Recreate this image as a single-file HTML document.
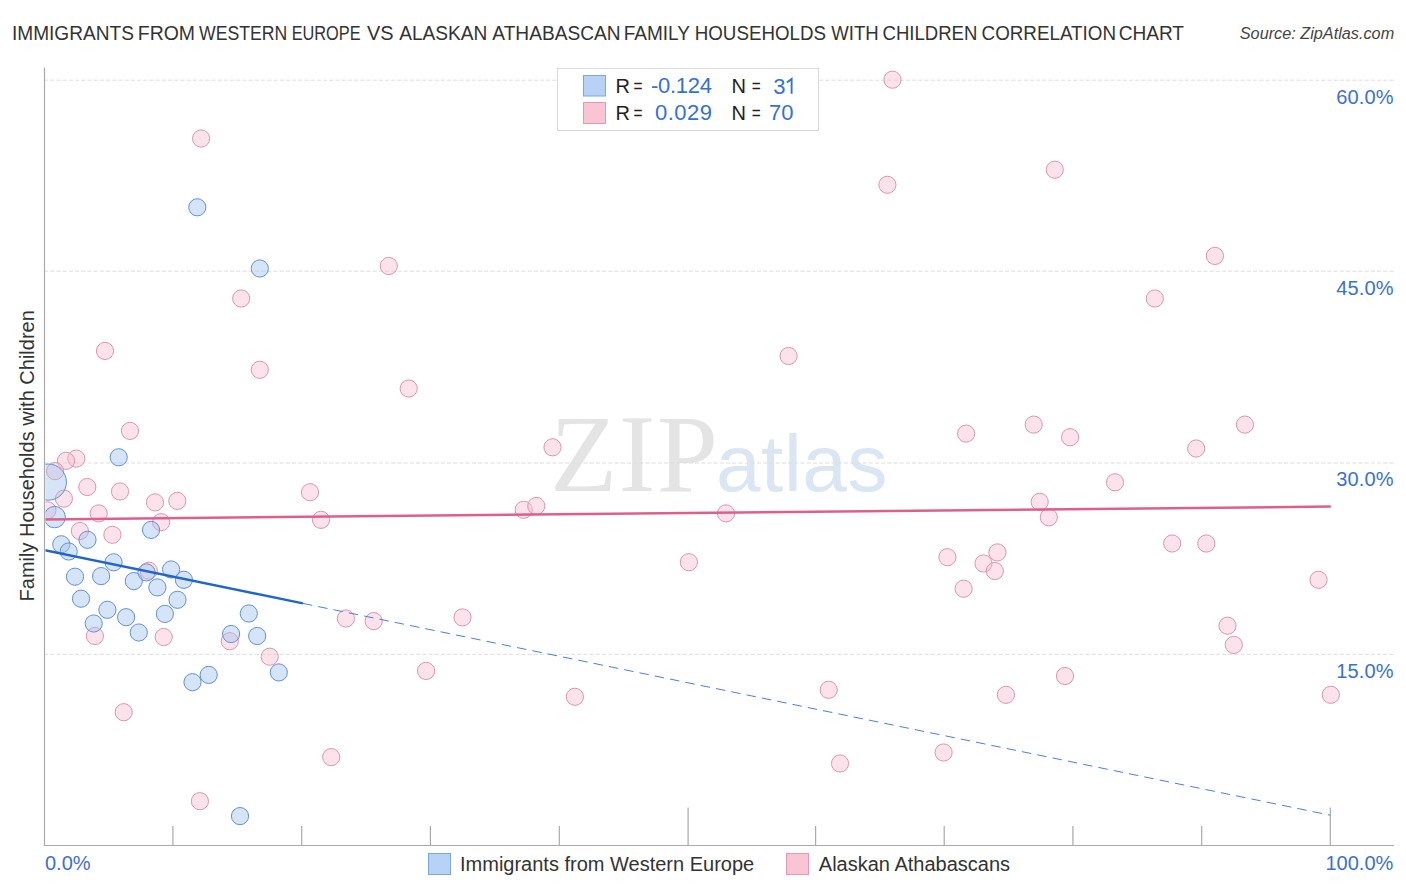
<!DOCTYPE html>
<html><head><meta charset="utf-8"><title>Chart</title>
<style>html,body{margin:0;padding:0;background:#fff;width:1406px;height:892px;overflow:hidden;position:relative;font-family:"Liberation Sans", sans-serif;}</style>
</head><body>
<svg width="1406" height="892" viewBox="0 0 1406 892" style="position:absolute;left:0;top:0;font-family:'Liberation Sans', sans-serif">
<defs><clipPath id="pc"><rect x="45.5" y="60" width="1350" height="785"/></clipPath></defs>
<g font-size="20" fill="#333"><text y="39.9" x="11.94" textLength="122.04" lengthAdjust="spacingAndGlyphs">IMMIGRANTS</text><text y="39.9" x="137.80" textLength="57.29" lengthAdjust="spacingAndGlyphs">FROM</text><text y="39.9" x="199.02" textLength="88.32" lengthAdjust="spacingAndGlyphs">WESTERN</text><text y="39.9" x="291.66" textLength="68.94" lengthAdjust="spacingAndGlyphs">EUROPE</text><text y="39.9" x="366.91" textLength="26.60" lengthAdjust="spacingAndGlyphs">VS</text><text y="39.9" x="399.26" textLength="88.09" lengthAdjust="spacingAndGlyphs">ALASKAN</text><text y="39.9" x="492.36" textLength="128.18" lengthAdjust="spacingAndGlyphs">ATHABASCAN</text><text y="39.9" x="623.70" textLength="66.21" lengthAdjust="spacingAndGlyphs">FAMILY</text><text y="39.9" x="694.76" textLength="131.20" lengthAdjust="spacingAndGlyphs">HOUSEHOLDS</text><text y="39.9" x="831.32" textLength="47.39" lengthAdjust="spacingAndGlyphs">WITH</text><text y="39.9" x="882.56" textLength="94.86" lengthAdjust="spacingAndGlyphs">CHILDREN</text><text y="39.9" x="981.55" textLength="134.46" lengthAdjust="spacingAndGlyphs">CORRELATION</text><text y="39.9" x="1118.64" textLength="65.40" lengthAdjust="spacingAndGlyphs">CHART</text></g>
<text x="1394.2" y="39.1" font-size="16.25" font-style="italic" fill="#444" text-anchor="end">Source: ZipAtlas.com</text>
<text x="550" y="491" font-family="'Liberation Serif', serif" font-size="110" fill="#e4e4e4" letter-spacing="1.5">ZIP</text>
<text x="716" y="491" font-size="80" fill="#dbe6f4" letter-spacing="0.6">atlas</text>
<line x1="44" y1="80.2" x2="1394" y2="80.2" stroke="#dedede" stroke-width="1" stroke-dasharray="4.2 2"/>
<line x1="44" y1="271.2" x2="1394" y2="271.2" stroke="#dedede" stroke-width="1" stroke-dasharray="4.2 2"/>
<line x1="44" y1="463.0" x2="1394" y2="463.0" stroke="#dedede" stroke-width="1" stroke-dasharray="4.2 2"/>
<line x1="44" y1="654.3" x2="1394" y2="654.3" stroke="#dedede" stroke-width="1" stroke-dasharray="4.2 2"/>
<text x="1393.6" y="104.1" font-size="20" fill="#3b70d4" text-anchor="end" textLength="57.3" lengthAdjust="spacing">60.0%</text>
<text x="1393.6" y="294.8" font-size="20" fill="#3b70d4" text-anchor="end" textLength="57.3" lengthAdjust="spacing">45.0%</text>
<text x="1393.6" y="485.8" font-size="20" fill="#3b70d4" text-anchor="end" textLength="57.3" lengthAdjust="spacing">30.0%</text>
<text x="1393.6" y="677.9" font-size="20" fill="#3b70d4" text-anchor="end" textLength="57.3" lengthAdjust="spacing">15.0%</text>
<line x1="44.5" y1="67.5" x2="44.5" y2="846" stroke="#aaa" stroke-width="1.2"/>
<line x1="44" y1="845.5" x2="1394" y2="845.5" stroke="#aaa" stroke-width="1.2"/>
<line x1="172.9" y1="826" x2="172.9" y2="845.5" stroke="#aaa" stroke-width="1.2"/>
<line x1="301.7" y1="826" x2="301.7" y2="845.5" stroke="#aaa" stroke-width="1.2"/>
<line x1="430.4" y1="826" x2="430.4" y2="845.5" stroke="#aaa" stroke-width="1.2"/>
<line x1="559.3" y1="826" x2="559.3" y2="845.5" stroke="#aaa" stroke-width="1.2"/>
<line x1="688.1" y1="807.5" x2="688.1" y2="845.5" stroke="#aaa" stroke-width="1.2"/>
<line x1="815.6" y1="826" x2="815.6" y2="845.5" stroke="#aaa" stroke-width="1.2"/>
<line x1="944.2" y1="826" x2="944.2" y2="845.5" stroke="#aaa" stroke-width="1.2"/>
<line x1="1072.9" y1="826" x2="1072.9" y2="845.5" stroke="#aaa" stroke-width="1.2"/>
<line x1="1201.7" y1="826" x2="1201.7" y2="845.5" stroke="#aaa" stroke-width="1.2"/>
<line x1="1330.3" y1="807.5" x2="1330.3" y2="845.5" stroke="#aaa" stroke-width="1.2"/>
<text x="45" y="870" font-size="20" fill="#3b70d4">0.0%</text>
<text x="1393.3" y="870" font-size="20" fill="#3b70d4" text-anchor="end">100.0%</text>
<text transform="translate(33.5,455.8) rotate(-90)" font-size="20" fill="#333" text-anchor="middle">Family Households with Children</text>
<g clip-path="url(#pc)">
<circle cx="201.1" cy="138.5" r="8.6" fill="#f7bcd0" fill-opacity="0.42" stroke="#df94ae" stroke-width="1"/>
<circle cx="892.5" cy="79.7" r="8.6" fill="#f7bcd0" fill-opacity="0.42" stroke="#df94ae" stroke-width="1"/>
<circle cx="887.4" cy="184.8" r="8.6" fill="#f7bcd0" fill-opacity="0.42" stroke="#df94ae" stroke-width="1"/>
<circle cx="1054.8" cy="169.7" r="8.6" fill="#f7bcd0" fill-opacity="0.42" stroke="#df94ae" stroke-width="1"/>
<circle cx="1214.9" cy="255.9" r="8.6" fill="#f7bcd0" fill-opacity="0.42" stroke="#df94ae" stroke-width="1"/>
<circle cx="388.8" cy="266.0" r="8.6" fill="#f7bcd0" fill-opacity="0.42" stroke="#df94ae" stroke-width="1"/>
<circle cx="241.2" cy="298.5" r="8.6" fill="#f7bcd0" fill-opacity="0.42" stroke="#df94ae" stroke-width="1"/>
<circle cx="105.0" cy="350.9" r="8.6" fill="#f7bcd0" fill-opacity="0.42" stroke="#df94ae" stroke-width="1"/>
<circle cx="259.8" cy="369.8" r="8.6" fill="#f7bcd0" fill-opacity="0.42" stroke="#df94ae" stroke-width="1"/>
<circle cx="408.7" cy="388.5" r="8.6" fill="#f7bcd0" fill-opacity="0.42" stroke="#df94ae" stroke-width="1"/>
<circle cx="788.6" cy="356.0" r="8.6" fill="#f7bcd0" fill-opacity="0.42" stroke="#df94ae" stroke-width="1"/>
<circle cx="1154.8" cy="298.5" r="8.6" fill="#f7bcd0" fill-opacity="0.42" stroke="#df94ae" stroke-width="1"/>
<circle cx="130.0" cy="430.9" r="8.6" fill="#f7bcd0" fill-opacity="0.42" stroke="#df94ae" stroke-width="1"/>
<circle cx="76.3" cy="458.6" r="8.6" fill="#f7bcd0" fill-opacity="0.42" stroke="#df94ae" stroke-width="1"/>
<circle cx="66.0" cy="460.8" r="8.6" fill="#f7bcd0" fill-opacity="0.42" stroke="#df94ae" stroke-width="1"/>
<circle cx="55.1" cy="471.1" r="8.6" fill="#f7bcd0" fill-opacity="0.42" stroke="#df94ae" stroke-width="1"/>
<circle cx="87.3" cy="487.0" r="8.6" fill="#f7bcd0" fill-opacity="0.42" stroke="#df94ae" stroke-width="1"/>
<circle cx="120.0" cy="491.5" r="8.6" fill="#f7bcd0" fill-opacity="0.42" stroke="#df94ae" stroke-width="1"/>
<circle cx="63.9" cy="498.6" r="8.6" fill="#f7bcd0" fill-opacity="0.42" stroke="#df94ae" stroke-width="1"/>
<circle cx="155.0" cy="502.4" r="8.6" fill="#f7bcd0" fill-opacity="0.42" stroke="#df94ae" stroke-width="1"/>
<circle cx="177.3" cy="500.9" r="8.6" fill="#f7bcd0" fill-opacity="0.42" stroke="#df94ae" stroke-width="1"/>
<circle cx="47.4" cy="510.3" r="8.6" fill="#f7bcd0" fill-opacity="0.42" stroke="#df94ae" stroke-width="1"/>
<circle cx="98.7" cy="513.4" r="8.6" fill="#f7bcd0" fill-opacity="0.42" stroke="#df94ae" stroke-width="1"/>
<circle cx="161.1" cy="522.2" r="8.6" fill="#f7bcd0" fill-opacity="0.42" stroke="#df94ae" stroke-width="1"/>
<circle cx="79.9" cy="531.0" r="8.6" fill="#f7bcd0" fill-opacity="0.42" stroke="#df94ae" stroke-width="1"/>
<circle cx="112.4" cy="534.8" r="8.6" fill="#f7bcd0" fill-opacity="0.42" stroke="#df94ae" stroke-width="1"/>
<circle cx="148.8" cy="570.7" r="8.6" fill="#f7bcd0" fill-opacity="0.42" stroke="#df94ae" stroke-width="1"/>
<circle cx="94.9" cy="636.0" r="8.6" fill="#f7bcd0" fill-opacity="0.42" stroke="#df94ae" stroke-width="1"/>
<circle cx="163.7" cy="637.0" r="8.6" fill="#f7bcd0" fill-opacity="0.42" stroke="#df94ae" stroke-width="1"/>
<circle cx="229.8" cy="641.2" r="8.6" fill="#f7bcd0" fill-opacity="0.42" stroke="#df94ae" stroke-width="1"/>
<circle cx="123.7" cy="712.2" r="8.6" fill="#f7bcd0" fill-opacity="0.42" stroke="#df94ae" stroke-width="1"/>
<circle cx="199.9" cy="801.2" r="8.6" fill="#f7bcd0" fill-opacity="0.42" stroke="#df94ae" stroke-width="1"/>
<circle cx="331.2" cy="757.1" r="8.6" fill="#f7bcd0" fill-opacity="0.42" stroke="#df94ae" stroke-width="1"/>
<circle cx="310.0" cy="492.2" r="8.6" fill="#f7bcd0" fill-opacity="0.42" stroke="#df94ae" stroke-width="1"/>
<circle cx="321.0" cy="519.8" r="8.6" fill="#f7bcd0" fill-opacity="0.42" stroke="#df94ae" stroke-width="1"/>
<circle cx="345.9" cy="618.5" r="8.6" fill="#f7bcd0" fill-opacity="0.42" stroke="#df94ae" stroke-width="1"/>
<circle cx="373.7" cy="621.1" r="8.6" fill="#f7bcd0" fill-opacity="0.42" stroke="#df94ae" stroke-width="1"/>
<circle cx="269.7" cy="656.7" r="8.6" fill="#f7bcd0" fill-opacity="0.42" stroke="#df94ae" stroke-width="1"/>
<circle cx="552.5" cy="447.3" r="8.6" fill="#f7bcd0" fill-opacity="0.42" stroke="#df94ae" stroke-width="1"/>
<circle cx="523.7" cy="509.8" r="8.6" fill="#f7bcd0" fill-opacity="0.42" stroke="#df94ae" stroke-width="1"/>
<circle cx="536.3" cy="506.0" r="8.6" fill="#f7bcd0" fill-opacity="0.42" stroke="#df94ae" stroke-width="1"/>
<circle cx="726.0" cy="513.4" r="8.6" fill="#f7bcd0" fill-opacity="0.42" stroke="#df94ae" stroke-width="1"/>
<circle cx="688.9" cy="562.2" r="8.6" fill="#f7bcd0" fill-opacity="0.42" stroke="#df94ae" stroke-width="1"/>
<circle cx="462.5" cy="617.4" r="8.6" fill="#f7bcd0" fill-opacity="0.42" stroke="#df94ae" stroke-width="1"/>
<circle cx="426.1" cy="670.9" r="8.6" fill="#f7bcd0" fill-opacity="0.42" stroke="#df94ae" stroke-width="1"/>
<circle cx="574.9" cy="696.8" r="8.6" fill="#f7bcd0" fill-opacity="0.42" stroke="#df94ae" stroke-width="1"/>
<circle cx="966.1" cy="433.6" r="8.6" fill="#f7bcd0" fill-opacity="0.42" stroke="#df94ae" stroke-width="1"/>
<circle cx="1033.7" cy="424.6" r="8.6" fill="#f7bcd0" fill-opacity="0.42" stroke="#df94ae" stroke-width="1"/>
<circle cx="1070.1" cy="437.2" r="8.6" fill="#f7bcd0" fill-opacity="0.42" stroke="#df94ae" stroke-width="1"/>
<circle cx="1039.7" cy="501.9" r="8.6" fill="#f7bcd0" fill-opacity="0.42" stroke="#df94ae" stroke-width="1"/>
<circle cx="1048.8" cy="517.3" r="8.6" fill="#f7bcd0" fill-opacity="0.42" stroke="#df94ae" stroke-width="1"/>
<circle cx="947.4" cy="557.2" r="8.6" fill="#f7bcd0" fill-opacity="0.42" stroke="#df94ae" stroke-width="1"/>
<circle cx="997.4" cy="552.4" r="8.6" fill="#f7bcd0" fill-opacity="0.42" stroke="#df94ae" stroke-width="1"/>
<circle cx="983.5" cy="563.5" r="8.6" fill="#f7bcd0" fill-opacity="0.42" stroke="#df94ae" stroke-width="1"/>
<circle cx="994.8" cy="571.0" r="8.6" fill="#f7bcd0" fill-opacity="0.42" stroke="#df94ae" stroke-width="1"/>
<circle cx="963.6" cy="588.7" r="8.6" fill="#f7bcd0" fill-opacity="0.42" stroke="#df94ae" stroke-width="1"/>
<circle cx="828.7" cy="689.8" r="8.6" fill="#f7bcd0" fill-opacity="0.42" stroke="#df94ae" stroke-width="1"/>
<circle cx="1005.9" cy="694.8" r="8.6" fill="#f7bcd0" fill-opacity="0.42" stroke="#df94ae" stroke-width="1"/>
<circle cx="1065.0" cy="676.0" r="8.6" fill="#f7bcd0" fill-opacity="0.42" stroke="#df94ae" stroke-width="1"/>
<circle cx="840.0" cy="763.5" r="8.6" fill="#f7bcd0" fill-opacity="0.42" stroke="#df94ae" stroke-width="1"/>
<circle cx="943.6" cy="752.5" r="8.6" fill="#f7bcd0" fill-opacity="0.42" stroke="#df94ae" stroke-width="1"/>
<circle cx="1244.9" cy="424.6" r="8.6" fill="#f7bcd0" fill-opacity="0.42" stroke="#df94ae" stroke-width="1"/>
<circle cx="1196.2" cy="448.5" r="8.6" fill="#f7bcd0" fill-opacity="0.42" stroke="#df94ae" stroke-width="1"/>
<circle cx="1115.0" cy="482.3" r="8.6" fill="#f7bcd0" fill-opacity="0.42" stroke="#df94ae" stroke-width="1"/>
<circle cx="1172.2" cy="543.5" r="8.6" fill="#f7bcd0" fill-opacity="0.42" stroke="#df94ae" stroke-width="1"/>
<circle cx="1206.3" cy="543.5" r="8.6" fill="#f7bcd0" fill-opacity="0.42" stroke="#df94ae" stroke-width="1"/>
<circle cx="1318.5" cy="579.8" r="8.6" fill="#f7bcd0" fill-opacity="0.42" stroke="#df94ae" stroke-width="1"/>
<circle cx="1227.5" cy="625.7" r="8.6" fill="#f7bcd0" fill-opacity="0.42" stroke="#df94ae" stroke-width="1"/>
<circle cx="1233.8" cy="644.9" r="8.6" fill="#f7bcd0" fill-opacity="0.42" stroke="#df94ae" stroke-width="1"/>
<circle cx="1330.8" cy="694.8" r="8.6" fill="#f7bcd0" fill-opacity="0.42" stroke="#df94ae" stroke-width="1"/>
<circle cx="48.3" cy="482.1" r="18.1" fill="#a2c2f0" fill-opacity="0.44" stroke="#5f90de" stroke-width="1"/>
<circle cx="54.7" cy="517.1" r="10.7" fill="#a2c2f0" fill-opacity="0.44" stroke="#5f90de" stroke-width="1"/>
<circle cx="197.3" cy="207.3" r="8.6" fill="#a2c2f0" fill-opacity="0.44" stroke="#5f90de" stroke-width="1"/>
<circle cx="259.8" cy="268.5" r="8.6" fill="#a2c2f0" fill-opacity="0.44" stroke="#5f90de" stroke-width="1"/>
<circle cx="118.7" cy="457.3" r="8.6" fill="#a2c2f0" fill-opacity="0.44" stroke="#5f90de" stroke-width="1"/>
<circle cx="151.0" cy="529.9" r="8.6" fill="#a2c2f0" fill-opacity="0.44" stroke="#5f90de" stroke-width="1"/>
<circle cx="87.5" cy="539.8" r="8.6" fill="#a2c2f0" fill-opacity="0.44" stroke="#5f90de" stroke-width="1"/>
<circle cx="61.3" cy="544.3" r="8.6" fill="#a2c2f0" fill-opacity="0.44" stroke="#5f90de" stroke-width="1"/>
<circle cx="68.7" cy="551.5" r="8.6" fill="#a2c2f0" fill-opacity="0.44" stroke="#5f90de" stroke-width="1"/>
<circle cx="113.6" cy="562.3" r="8.6" fill="#a2c2f0" fill-opacity="0.44" stroke="#5f90de" stroke-width="1"/>
<circle cx="75.0" cy="576.7" r="8.6" fill="#a2c2f0" fill-opacity="0.44" stroke="#5f90de" stroke-width="1"/>
<circle cx="101.1" cy="576.1" r="8.6" fill="#a2c2f0" fill-opacity="0.44" stroke="#5f90de" stroke-width="1"/>
<circle cx="133.8" cy="581.1" r="8.6" fill="#a2c2f0" fill-opacity="0.44" stroke="#5f90de" stroke-width="1"/>
<circle cx="146.5" cy="572.4" r="8.6" fill="#a2c2f0" fill-opacity="0.44" stroke="#5f90de" stroke-width="1"/>
<circle cx="171.1" cy="569.5" r="8.6" fill="#a2c2f0" fill-opacity="0.44" stroke="#5f90de" stroke-width="1"/>
<circle cx="183.9" cy="579.8" r="8.6" fill="#a2c2f0" fill-opacity="0.44" stroke="#5f90de" stroke-width="1"/>
<circle cx="157.4" cy="587.4" r="8.6" fill="#a2c2f0" fill-opacity="0.44" stroke="#5f90de" stroke-width="1"/>
<circle cx="81.0" cy="598.7" r="8.6" fill="#a2c2f0" fill-opacity="0.44" stroke="#5f90de" stroke-width="1"/>
<circle cx="177.5" cy="599.8" r="8.6" fill="#a2c2f0" fill-opacity="0.44" stroke="#5f90de" stroke-width="1"/>
<circle cx="107.4" cy="609.8" r="8.6" fill="#a2c2f0" fill-opacity="0.44" stroke="#5f90de" stroke-width="1"/>
<circle cx="126.1" cy="617.2" r="8.6" fill="#a2c2f0" fill-opacity="0.44" stroke="#5f90de" stroke-width="1"/>
<circle cx="164.9" cy="613.9" r="8.6" fill="#a2c2f0" fill-opacity="0.44" stroke="#5f90de" stroke-width="1"/>
<circle cx="93.7" cy="623.5" r="8.6" fill="#a2c2f0" fill-opacity="0.44" stroke="#5f90de" stroke-width="1"/>
<circle cx="138.8" cy="632.5" r="8.6" fill="#a2c2f0" fill-opacity="0.44" stroke="#5f90de" stroke-width="1"/>
<circle cx="248.8" cy="613.5" r="8.6" fill="#a2c2f0" fill-opacity="0.44" stroke="#5f90de" stroke-width="1"/>
<circle cx="231.1" cy="634.0" r="8.6" fill="#a2c2f0" fill-opacity="0.44" stroke="#5f90de" stroke-width="1"/>
<circle cx="257.2" cy="636.0" r="8.6" fill="#a2c2f0" fill-opacity="0.44" stroke="#5f90de" stroke-width="1"/>
<circle cx="278.8" cy="672.4" r="8.6" fill="#a2c2f0" fill-opacity="0.44" stroke="#5f90de" stroke-width="1"/>
<circle cx="208.7" cy="674.9" r="8.6" fill="#a2c2f0" fill-opacity="0.44" stroke="#5f90de" stroke-width="1"/>
<circle cx="192.5" cy="682.2" r="8.6" fill="#a2c2f0" fill-opacity="0.44" stroke="#5f90de" stroke-width="1"/>
<circle cx="240.0" cy="816.1" r="8.6" fill="#a2c2f0" fill-opacity="0.44" stroke="#5f90de" stroke-width="1"/>
<line x1="44" y1="519.4" x2="1330.8" y2="506.6" stroke="#df5f8c" stroke-width="2.5"/>
<line x1="44" y1="550.0" x2="302.9" y2="603.4" stroke="#1f66cc" stroke-width="2.4"/>
<line x1="302.9" y1="603.4" x2="1330.3" y2="815.2" stroke="#4a7fd6" stroke-width="1" stroke-dasharray="9.5 6.12"/>
</g>
<rect x="557.5" y="68.5" width="261" height="62" fill="#fff" stroke="#d8d8d8" stroke-width="1"/>
<rect x="583.5" y="75.5" width="22" height="20.5" fill="#b8d2f5" stroke="#7aa6e6" stroke-width="1"/>
<rect x="583.5" y="102.5" width="22" height="21" fill="#f9c5d5" stroke="#eb97b3" stroke-width="1"/>
<text x="615.4" y="93" font-size="20" fill="#222">R</text>
<text x="633.6" y="93" font-size="20" fill="#222" textLength="9" lengthAdjust="spacingAndGlyphs">=</text>
<text x="712" y="93" font-size="22" fill="#3371d6" text-anchor="end" textLength="61.0" lengthAdjust="spacing">-0.124</text>
<text x="731.5" y="93" font-size="20" fill="#222">N</text>
<text x="751.8" y="93" font-size="20" fill="#222" textLength="9" lengthAdjust="spacingAndGlyphs">=</text>
<text x="615.4" y="120" font-size="20" fill="#222">R</text>
<text x="633.6" y="120" font-size="20" fill="#222" textLength="9" lengthAdjust="spacingAndGlyphs">=</text>
<text x="712" y="120" font-size="22" fill="#3371d6" text-anchor="end" textLength="57.0" lengthAdjust="spacing">0.029</text>
<text x="731.5" y="120" font-size="20" fill="#222">N</text>
<text x="751.8" y="120" font-size="20" fill="#222" textLength="9" lengthAdjust="spacingAndGlyphs">=</text>
<text x="773.3" y="93.6" font-size="22" fill="#3371d6">3</text>
<path d="M786.9 82.6 L791.6 78.9 L791.6 93.7" fill="none" stroke="#3371d6" stroke-width="1.9" stroke-linejoin="miter"/>
<text x="793.4" y="120.4" font-size="22" fill="#3371d6" text-anchor="end">70</text>
<rect x="428.5" y="853.5" width="22" height="21" fill="#b8d2f5" stroke="#7aa6e6" stroke-width="1"/>
<text x="460" y="871.2" font-size="20" fill="#333">Immigrants from Western Europe</text>
<rect x="786.5" y="853.5" width="22" height="21" fill="#f9c5d5" stroke="#eb97b3" stroke-width="1"/>
<text x="818.8" y="871.2" font-size="20" fill="#333">Alaskan Athabascans</text>
</svg>
</body></html>
